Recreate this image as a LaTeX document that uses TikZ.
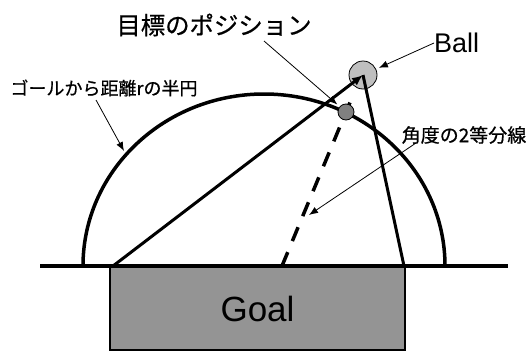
\documentclass[tikz,border=0pt]{standalone}
\usepackage{fontspec}
\setmainfont{Liberation Sans}
\newfontfamily\jp[FakeBold=0.6]{Noto Sans CJK JP}
\usetikzlibrary{arrows.meta}
\tikzset{
  ground/.style={line width=4pt},
  halfcircle/.style={line width=3.5pt},
  ray/.style={line width=3pt},
  bisector/.style={line width=3.5pt, dash pattern=on 15pt off 12pt},
  lblarrow/.style={line width=0.8pt, -{Latex[length=9pt,width=7pt]}},
  goalbox/.style={draw, line width=2pt, fill=black!42, inner sep=0pt, anchor=north west,
    minimum width=295pt, minimum height=83pt, font=\fontsize{35}{35}\selectfont},
  ballnode/.style={circle, draw, line width=0.8pt, fill=black!25, minimum size=28pt, inner sep=0pt},
  dotnode/.style={circle, draw, line width=0.8pt, fill=black!50, minimum size=16pt, inner sep=0pt},
  jptext/.style={inner sep=0pt, text=black}
}
\begin{document}
\begin{tikzpicture}[x=1pt,y=-1pt]
\useasboundingbox[fill=white] (0,0) rectangle (531,351);

% goal
\node[goalbox] (goal) at (109,266) {Goal};
% ground line
\draw[ground] (40,266) -- (508,266);
% semicircle
\draw[halfcircle] (83,266) arc[start angle=180, end angle=0, x radius=181pt, y radius=172pt];

\coordinate (lp) at (113,266);
\coordinate (rp) at (404,266);
\coordinate (mid) at (282,266);
\coordinate (dtop) at (352.2,97);

% ball
\node[ballnode] (ball) at (363,75) {};
% lines to posts
\draw[ray, -{Latex[length=11pt,width=9pt]}] (lp) -- (ball.center);
\draw[ray] (ball.center) -- (rp);
% bisector
\draw[bisector] (mid) -- (dtop);
\node[dotnode] (dot) at (346,112) {};

% labels
\node[jptext, font=\jp\fontsize{24.4}{24}\selectfont] (target) at (214,25) {目標のポジション};
\node[jptext, font=\jp\fontsize{18}{18}\selectfont] (semi) at (104,88) {ゴールから距離rの半円};
\node[jptext, font=\fontsize{27}{27}\selectfont, anchor=west] (balllbl) at (434,43) {Ball};
\node[jptext, font=\jp\fontsize{19}{19}\selectfont] (bis) at (464,135) {角度の2等分線};

\coordinate (ta) at (264,41);
\coordinate (sa) at (96,100);
\coordinate (se) at (124,151);
\coordinate (ba) at (416,143);
\coordinate (be) at (309,215);

\draw[lblarrow, shorten >=3pt] (ta) -- (dot);
\draw[lblarrow] (sa) -- (se);
\draw[lblarrow, shorten >=3pt] (balllbl.west) -- (ball);
\draw[lblarrow] (ba) -- (be);
\end{tikzpicture}
\end{document}
